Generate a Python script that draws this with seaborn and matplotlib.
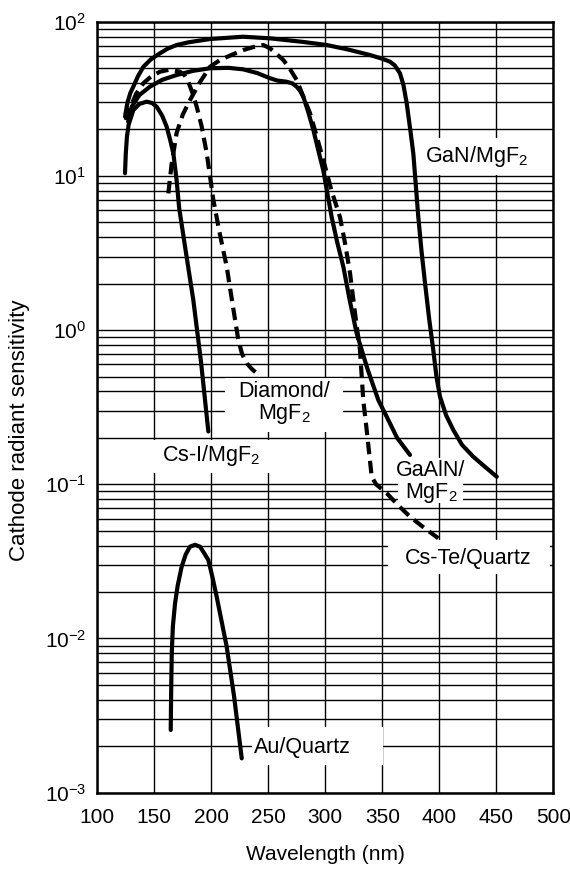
import numpy as np
import matplotlib
matplotlib.use("Agg")
import matplotlib.pyplot as plt
import seaborn as sns
from matplotlib.ticker import LogLocator, NullFormatter, FixedLocator
from matplotlib.patches import Rectangle

# Photocathode spectral response curves (wavelength in nm, sensitivity)
gan_wl = [124.3, 126.5, 129.0, 131.6, 135.5, 140.4, 147.0, 155.0, 162.0, 169.6,
          180.0, 198.9, 227.8, 251.5, 280.0, 301.2, 320.0, 339.2, 350.0, 356.8,
          361.0, 365.5, 368.5, 371.4, 374.5, 377.2, 379.5, 381.6, 384.5, 387.5,
          391.0, 394.7, 397.5, 400.6, 406.0, 412.3, 420.0, 429.8, 440.0, 450.4]
gan_val = [24.2, 30.0, 34.5, 37.9, 44.0, 51.0, 57.0, 62.4, 67.0, 70.6,
           73.5, 77.2, 79.9, 78.0, 74.0, 70.6, 66.0, 60.8, 57.5, 55.0,
           52.0, 46.3, 39.0, 29.6, 20.0, 14.0, 8.5, 5.4, 3.2, 2.01,
           1.2, 0.743, 0.5, 0.37, 0.28, 0.225, 0.18, 0.151, 0.13, 0.112]

gaaln_wl = [127.0, 130.2, 137.0, 146.2, 157.0, 169.6, 184.0, 198.9, 215.0, 227.8,
            240.0, 251.5, 258.0, 266.1, 271.0, 274.9, 278.0, 280.7, 285.0, 289.5,
            294.0, 298.2, 305.6, 310.5, 315.8, 321.5, 327.5, 337.0, 346.5, 353.9,
            363.0, 374.3]
gaaln_val = [22.5, 28.1, 33.5, 37.9, 42.0, 45.1, 48.0, 49.9, 50.2, 49.1,
             46.5, 43.0, 41.5, 40.8, 39.8, 37.9, 35.5, 32.6, 26.0, 19.9,
             14.5, 10.9, 5.4, 3.7, 2.58, 1.55, 0.953, 0.56, 0.352, 0.274,
             0.2, 0.155]

csi_wl = [124.3, 125.0, 126.0, 127.5, 131.6, 137.0, 143.3, 148.0, 152.1, 157.0,
          160.9, 164.0, 166.7, 169.5, 171.8, 178.0, 184.2, 191.0, 197.4]
csi_val = [10.4, 14.0, 18.0, 21.5, 26.7, 29.3, 30.3, 29.7, 28.1, 24.5,
           20.8, 17.0, 14.0, 9.5, 6.2, 3.1, 1.57, 0.62, 0.22]

diamond_wl = [125.0, 128.7, 134.0, 140.4, 147.0, 155.0, 163.0, 172.5, 176.5, 179.8,
              183.5, 187.2, 191.5, 196.0, 199.0, 201.8, 207.5, 213.5, 218.5, 223.7,
              227.0, 231.1, 235.5, 239.8]
diamond_val = [23.0, 27.4, 34.0, 39.9, 44.0, 47.4, 48.8, 47.4, 45.0, 40.8,
               34.5, 28.1, 21.0, 14.0, 9.8, 6.98, 4.2, 2.58, 1.5, 0.863,
               0.7, 0.61, 0.56, 0.525]

cste_wl = [162.3, 165.3, 169.6, 175.0, 181.3, 190.0, 198.9, 207.6, 218.0, 228.1,
           237.0, 245.6, 251.5, 257.0, 263.2, 268.5, 274.9, 280.5, 286.6, 292.5,
           298.2, 305.5, 312.9, 317.5, 321.7, 326.0, 330.4, 333.3, 336.3, 340.7,
           344.5, 353.9, 364.0, 374.3, 387.0, 399.1]
cste_val = [7.7, 12.1, 19.0, 25.0, 31.0, 40.5, 51.0, 56.4, 61.0, 65.5,
            68.5, 70.6, 67.2, 62.0, 56.4, 50.0, 41.9, 33.0, 25.5, 18.0,
            12.7, 8.0, 5.4, 3.6, 2.34, 1.3, 0.743, 0.352, 0.225, 0.112,
            0.1, 0.0875, 0.073, 0.0616, 0.052, 0.0447]

au_wl = [164.4, 164.8, 165.3, 166.3, 168.2, 170.5, 174.0, 177.5, 181.3, 185.7,
         190.1, 193.5, 197.4, 201.0, 204.7, 213.5, 220.0, 226.7]
au_val = [0.00255, 0.0045, 0.0080, 0.012, 0.0169, 0.022, 0.0292, 0.035, 0.0394, 0.0405,
          0.0394, 0.036, 0.0323, 0.025, 0.0187, 0.00885, 0.0042, 0.00167]

x_ticks = [100, 150, 200, 250, 300, 350, 400, 450, 500]
y_ticks = [1e-3, 1e-2, 1e-1, 1e0, 1e1, 1e2]

sns.set_theme(style="white")
plt.rcParams["font.family"] = ["Liberation Sans", "DejaVu Sans"]
plt.rcParams["mathtext.fontset"] = "custom"
plt.rcParams["mathtext.rm"] = "Liberation Sans"
plt.rcParams["mathtext.it"] = "Liberation Sans:italic"
plt.rcParams["mathtext.default"] = "regular"

FS = 15
FS_LABEL = 15.5

fig = plt.figure(figsize=(5.7, 8.71), dpi=100)
ax = fig.add_axes([0.1707, 0.0899, 0.8, 0.8852])
ax.set_yscale("log")

solid = dict(solid_capstyle="round", solid_joinstyle="round")
dashed = dict(linestyle=(0, (3.0, 1.6)), dash_capstyle="butt", dash_joinstyle="round")

series = [
    (gan_wl, gan_val, solid),
    (gaaln_wl, gaaln_val, solid),
    (csi_wl, csi_val, solid),
    (diamond_wl, diamond_val, dashed),
    (cste_wl, cste_val, dashed),
    (au_wl, au_val, solid),
]
for wl, val, style in series:
    sns.lineplot(x=wl, y=val, ax=ax, color="black", linewidth=3.0,
                 estimator=None, sort=False, legend=False, zorder=3, **style)

ax.set_xlim(100, 500)
ax.set_ylim(1e-3, 1e2)
ax.xaxis.set_major_locator(FixedLocator(x_ticks))
ax.yaxis.set_major_locator(FixedLocator(y_ticks))
ax.yaxis.set_minor_locator(LogLocator(base=10, subs=np.arange(2, 10), numticks=30))
ax.yaxis.set_minor_formatter(NullFormatter())

ax.set_axisbelow(True)
ax.grid(True, which="major", axis="both", color="black", linewidth=1.0)
ax.grid(True, which="minor", axis="y", color="black", linewidth=1.0)

ax.tick_params(axis="both", which="both", length=0, labelsize=FS, colors="black")
ax.tick_params(axis="x", pad=11)
ax.tick_params(axis="y", pad=8)
for sp in ax.spines.values():
    sp.set_color("black")
    sp.set_linewidth(1.8)
    sp.set_zorder(5)

ax.set_xlabel("Wavelength (nm)", fontsize=FS, color="black")
ax.xaxis.set_label_coords(0.4995, -0.068)
ax.set_ylabel("Cathode radiant sensitivity", fontsize=16, color="black")
ax.yaxis.set_label_coords(-0.148, 0.47)

# White patches behind the curve labels (axes fractions)
boxes = [
    (0.703, 0.801, 0.268, 0.048),   # GaN/MgF2
    (0.280, 0.468, 0.259, 0.070),   # Diamond/MgF2
    (0.111, 0.415, 0.279, 0.042),   # Cs-I/MgF2
    (0.659, 0.376, 0.143, 0.058),   # GaAlN/MgF2
    (0.637, 0.284, 0.356, 0.044),   # Cs-Te/Quartz
    (0.339, 0.036, 0.288, 0.049),   # Au/Quartz
]
for x0, y0, w, h in boxes:
    ax.add_patch(Rectangle((x0, y0), w, h, transform=ax.transAxes,
                           facecolor="white", edgecolor="none", zorder=2))

labels = [
    (0.831, 0.825, "GaN/MgF$_2$", "center"),
    (0.410, 0.5054, "Diamond/\nMgF$_2$", "center"),
    (0.2498, 0.4367, "Cs-I/MgF$_2$", "center"),
    (0.7318, 0.4020, "GaAlN/\nMgF$_2$", "center"),
    (0.813, 0.3044, "Cs-Te/Quartz", "center"),
    (0.344, 0.058, "Au/Quartz", "left"),
]
for x, y, s, ha in labels:
    ax.text(x, y, s, transform=ax.transAxes, ha=ha, va="center",
            multialignment="center", fontsize=FS_LABEL, color="black",
            linespacing=1.0, zorder=4)

fig.savefig("out.png", dpi=100, facecolor="white")
